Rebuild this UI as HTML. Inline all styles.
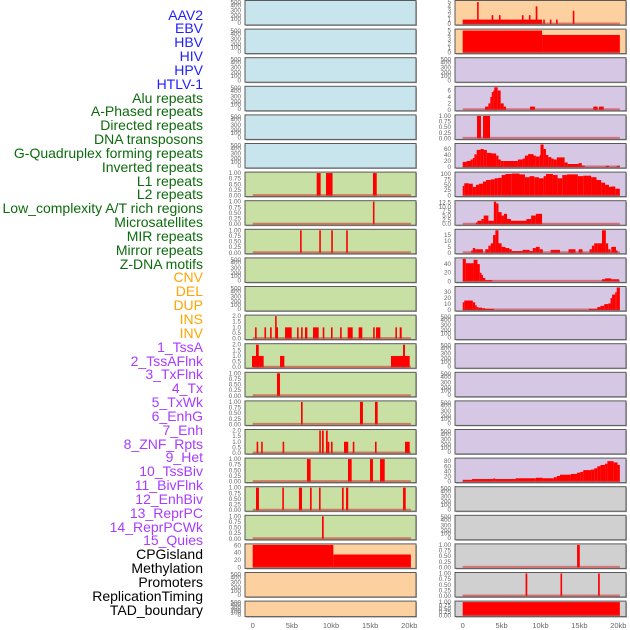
<!DOCTYPE html>
<html><head><meta charset="utf-8">
<style>
body{margin:0;background:#fff;}
#wrap{position:relative;width:630px;height:630px;overflow:hidden;font-family:"Liberation Sans",sans-serif;}
.lbl{position:absolute;right:427px;font-size:14px;line-height:14px;white-space:nowrap;}
svg{position:absolute;left:0;top:0;}
</style></head>
<body>
<div id="wrap">
<svg id="chart" width="630" height="630"></svg>
</div>
<script>
// ---- labels ----
const trackLabels = ["AAV2","EBV","HBV","HIV","HPV","HTLV-1","Alu repeats","A-Phased repeats","Directed repeats","DNA transposons","G-Quadruplex forming repeats","Inverted repeats","L1 repeats","L2 repeats","Low_complexity A/T rich regions","Microsatellites","MIR repeats","Mirror repeats","Z-DNA motifs","CNV","DEL","DUP","INS","INV","1_TssA","2_TssAFlnk","3_TxFlnk","4_Tx","5_TxWk","6_EnhG","7_Enh","8_ZNF_Rpts","9_Het","10_TssBiv","11_BivFlnk","12_EnhBiv","13_ReprPC","14_ReprPCWk","15_Quies","CPGisland","Methylation","Promoters","ReplicationTiming","TAD_boundary"];
const labelGroups = ["v","v","v","v","v","v","r","r","r","r","r","r","r","r","r","r","r","r","r","s","s","s","s","s","c","c","c","c","c","c","c","c","c","c","c","c","c","c","c","o","o","o","o","o"];
// ---- tick label sets ----
const ticksEmpty = [0,100,200,300,400,500];
const ticksBin = ["0.00","0.25","0.50","0.75","1.00"];
const ticks2 = ["0.0","0.5","1.0","1.5","2.0"];
const ticks60 = [0,20,40,60];
const ticks5 = [0,1,2,3,4,5];
const ticks6 = [0,2,4,6];
const ticks100 = [0,25,50,75,100];
const ticks12 = ["0.0","2.5","5.0","7.5","10.0","12.5"];
const ticks15 = [0,5,10,15];
const ticks40 = [0,20,40];
const ticks30 = [0,10,20,30];
const ticks80 = [0,20,40,60,80];
const xTickVals = [0,5,10,15,20];
const xTickText = ["0","5kb","10kb","15kb","20kb"];
// ---- series: [startKb, endKb, value] ----
const aluRep = [[8.17,8.68,1],[9.36,10.2,1],[15.36,15.84,1]];
const aphRep = [[15.35,15.5,1]];
const dirRep = [[6.05,6.25,1],[8.5,8.7,1],[10.03,10.23,1],[11.94,12.14,1]];
const invRep = [[0.3,0.48,1],[1.5,1.66,1],[2.22,2.4,1],[2.86,3.03,2],[3.03,3.16,1],[4.13,4.98,1],[5.66,5.84,1],[6.18,6.36,1],[6.68,6.98,1],[7.7,8.43,1],[8.94,9.15,1],[10.0,10.18,1],[11.16,11.32,1],[12.13,12.77,1],[13.53,14.0,1],[15.38,15.55,1],[15.75,16.3,1],[18.22,18.4,1],[18.77,19.03,1]];
const l1Rep = [[-0.09,1.4,1],[0.42,0.77,2],[3.49,4.04,1],[17.66,20.05,1],[19.2,19.45,2]];
const l2Rep = [[3.1,3.49,1]];
const lowRep = [[6.17,6.38,1],[13.7,14.08,1],[15.62,15.96,1]];
const micRep = [[0.5,0.65,1],[1.08,1.25,1],[3.82,4.0,1],[8.5,8.64,2],[8.85,9.07,2],[9.36,9.58,2],[9.58,9.68,1],[10.0,10.18,1],[11.66,12.2,1],[12.78,12.95,1],[15.62,15.8,1],[19.45,20.05,1]];
const mirRep = [[6.93,7.4,1],[12.17,12.64,1],[14.98,15.36,1],[16.26,16.86,1]];
const mirrorRep = [[0.42,0.8,1],[3.78,3.96,1],[5.91,6.3,1],[7.32,7.53,1],[8.47,8.64,1],[11.4,11.62,1],[11.92,12.2,1],[19.2,19.54,1]];
const zdnaRep = [[8.85,9.07,1]];
const cnvVals = [[0,10.3,65],[10.3,20.2,35]];
const insVals = [[0,10.2,1],[1.85,2.0,5],[3.72,3.88,2],[4.66,4.82,2],[7.61,7.77,2],[8.51,8.67,2],[9.38,9.6,4],[10.35,10.5,1],[11.2,11.36,1],[12.0,12.17,1],[14.15,14.3,3]];
const invVals = [[0,10.2,5],[10.2,20.2,4]];
const tssFlnk = [[2.87,3.3,1],[3.3,3.55,2],[3.55,3.73,4],[3.73,3.93,5.5],[3.93,4.06,6],[4.06,4.5,7],[4.5,4.88,6],[4.88,5.27,2],[5.27,5.57,1],[8.65,9.29,1],[16.79,17.35,1],[17.52,18.12,1]];
const txFlnk = [[1.84,2.35,1],[2.61,3.51,1]];
const txVals = [[0,0.5,17],[0.5,1,20],[1,1.3,25],[1.3,1.5,30],[1.5,1.8,42],[1.8,2.3,57],[2.3,2.7,60],[2.7,3.1,57],[3.1,3.7,47],[3.7,4.3,45],[4.3,4.6,38],[4.6,4.9,25],[4.9,5.2,20],[5.2,7.1,20],[7.1,7.7,25],[7.7,8.0,28],[8.0,8.4,38],[8.4,9.1,43],[9.1,9.4,38],[9.4,9.9,35],[9.9,10.0,40],[10.0,10.4,75],[10.4,10.7,60],[10.7,11.0,40],[11.0,11.4,33],[11.4,11.7,28],[11.7,12.1,25],[12.1,13.1,32],[13.1,13.5,15],[13.5,14.9,10],[14.9,15.3,13],[15.3,15.7,5],[18.4,18.8,4],[19.8,20.2,4]];
const txWkVals = [[0,0.2,45],[0.2,0.8,57],[0.8,1.3,55],[1.3,1.7,40],[1.7,2.1,50],[2.1,2.6,55],[2.6,3.0,65],[3.0,3.6,72],[3.6,4.1,75],[4.1,4.5,80],[4.5,5.0,82],[5.0,5.5,95],[5.5,6.3,100],[6.3,7.3,102],[7.3,8.0,98],[8.0,8.6,85],[8.6,9.2,90],[9.2,9.8,85],[9.8,10.4,80],[10.4,10.7,90],[10.7,11.6,100],[11.6,12.2,95],[12.2,12.8,80],[12.8,13.4,95],[13.4,14.8,98],[14.8,15.5,90],[15.5,16.5,92],[16.5,17.2,85],[17.2,17.8,72],[17.8,18.3,60],[18.3,18.8,50],[18.8,19.0,40],[19.0,19.6,42],[19.6,20.2,32]];
const enhGVals = [[1.7,1.9,1],[1.9,2.4,2],[2.4,2.7,3],[2.7,3.3,5],[3.3,4.0,2],[4.0,4.3,13],[4.3,4.6,12],[4.6,5.0,7],[5.0,5.3,5],[5.3,5.7,6],[5.7,6.2,3],[6.2,8.2,2],[8.2,8.8,3],[8.8,9.4,5],[9.4,10.2,6]];
const enhVals = [[1.1,1.3,2],[1.3,1.6,4],[1.6,2.6,3],[2.9,3.3,3],[3.3,3.6,6],[3.6,3.9,8],[3.9,4.2,15],[4.2,4.6,19],[4.6,5.0,8],[5.0,5.5,5],[5.5,6.0,4],[6.0,6.3,3],[6.3,7.7,1.5],[7.7,8.6,2.5],[8.6,9.0,1.5],[9.0,9.4,4],[9.4,9.9,5],[9.9,10.3,3],[11.3,12.5,2.5],[13.6,14.5,3],[14.9,15.4,3],[16.3,16.6,3],[16.6,16.9,6],[16.9,17.3,8],[17.3,17.9,8],[17.9,18.4,19],[18.4,18.7,8],[18.7,19.0,3],[19.1,19.7,5],[19.7,19.9,2]];
const znfVals = [[0,0.4,55],[0.4,1.4,42],[1.4,1.9,50],[1.9,2.2,40],[2.2,2.4,20],[2.4,2.6,15],[2.6,2.9,8],[2.9,3.8,3],[17.9,18.3,5],[18.3,19.1,7],[19.1,20.1,5]];
const hetVals = [[0,0.2,13],[0.2,1.3,16],[1.3,1.6,13],[1.6,1.8,8],[1.8,2.0,5],[2.0,2.5,4],[2.5,2.9,3],[2.9,4.0,2],[16.2,17.3,2],[17.3,17.7,5],[17.7,18.2,7],[18.2,18.7,10],[18.7,19.0,11],[19.0,19.2,20],[19.2,19.6,26],[19.6,19.8,30],[19.8,20.2,38]];
const quiesVals = [[0,1.2,7],[1.2,3.9,10],[3.9,4.2,12],[4.2,6.8,10],[6.8,9.4,13],[9.4,10.3,15],[10.3,11.7,13],[11.7,12.1,17],[12.1,12.5,22],[12.5,13.9,27],[13.9,14.7,30],[14.7,15.1,35],[15.1,15.5,38],[15.5,16.5,45],[16.5,16.9,47],[16.9,17.3,52],[17.3,17.7,60],[17.7,18.3,65],[18.3,18.6,70],[18.6,19.4,80],[19.4,19.9,75],[19.9,20.2,65]];
const methVals = [[14.7,15.05,1]];
const promVals = [[8.08,8.3,1],[12.57,12.78,1],[17.4,17.62,1]];
const tadVals = [[0,20.2,1]];

const BLUE="#c8e4ec",GREEN="#c8e0a4",ORANGE="#fdd0a0",PURPLE="#d6c8e4",GRAY="#d0d0d0";
// panels: [column, row, bg, ticks, ymax, series, name]
const panels = [
 [0,0,BLUE,ticksEmpty,0,null],[0,1,BLUE,ticksEmpty,0,null],[0,2,BLUE,ticksEmpty,0,null],[0,3,BLUE,ticksEmpty,0,null],[0,4,BLUE,ticksEmpty,0,null],[0,5,BLUE,ticksEmpty,0,null],
 [0,6,GREEN,ticksBin,1,aluRep],[0,7,GREEN,ticksBin,1,aphRep],[0,8,GREEN,ticksBin,1,dirRep],[0,9,GREEN,ticksEmpty,0,null],[0,10,GREEN,ticksEmpty,0,null],
 [0,11,GREEN,ticks2,2,invRep],[0,12,GREEN,ticks2,2,l1Rep],[0,13,GREEN,ticksBin,1,l2Rep],[0,14,GREEN,ticksBin,1,lowRep],[0,15,GREEN,ticks2,2,micRep],
 [0,16,GREEN,ticksBin,1,mirRep],[0,17,GREEN,ticksBin,1,mirrorRep],[0,18,GREEN,ticksBin,1,zdnaRep],
 [0,19,ORANGE,ticks60,61,cnvVals],[0,20,ORANGE,ticksEmpty,0,null],[0,21,ORANGE,ticksEmpty,0,null],
 [1,0,ORANGE,ticks5,5.1,insVals],[1,1,ORANGE,ticks5,5.1,invVals],[1,2,PURPLE,ticksEmpty,0,null],[1,3,PURPLE,ticks6,7,tssFlnk],[1,4,PURPLE,ticksBin,1,txFlnk],
 [1,5,PURPLE,ticks60,75,txVals],[1,6,PURPLE,ticks100,104,txWkVals],[1,7,PURPLE,ticks12,13,enhGVals],[1,8,PURPLE,ticks15,19,enhVals],[1,9,PURPLE,ticks40,52,znfVals],
 [1,10,PURPLE,ticks30,38,hetVals],[1,11,PURPLE,ticksEmpty,0,null],[1,12,PURPLE,ticksEmpty,0,null],[1,13,PURPLE,ticksEmpty,0,null],[1,14,PURPLE,ticksEmpty,0,null],[1,15,PURPLE,ticksEmpty,0,null],
 [1,16,PURPLE,ticks80,88,quiesVals],[1,17,GRAY,ticksEmpty,0,null],[1,18,GRAY,ticksEmpty,0,null],[1,19,GRAY,ticksBin,1,methVals],[1,20,GRAY,ticksBin,1,promVals],[1,21,GRAY,ticksBin,1,tadVals]
];
const NS="http://www.w3.org/2000/svg";
const svg=document.getElementById('chart');
function mk(tag,attrs,parent){const e=document.createElementNS(NS,tag);for(const k in attrs)e.setAttribute(k,attrs[k]);(parent||svg).appendChild(e);return e;}
const colL=[245,455], colW=171, x0=[252.7,462.7], pxPerKb=[7.83,7.78];
function xs(c,kb){return x0[c]+kb*pxPerKb[c];}
function rowTop(r){return 0.5+r*28.6;}
function rowH(r){return r===21?15.5:24.5;}
const emptyFrac=[0.04,0.23,0.38,0.6,0.83,0.96];

panels.forEach((p,i)=>{
  const [c,r,bg,ticks,ymax,series]=p;
  const top=rowTop(r),h=rowH(r),left=colL[c];
  const g=mk('g',{});
  
  
  mk('rect',{x:left+1,y:top+1,width:colW,height:h,fill:'#aaa'},g);
  mk('rect',{x:left,y:top,width:colW,height:h,fill:bg,stroke:'#5a5a5a','stroke-width':1},g);
  const bot=top+h-1, span=h-2;
  const ys=v=>bot-Math.min(v,ymax)/ymax*span;
  // ticks
  ticks.forEach((t,k)=>{
    let y;
    if(!series) y=bot-emptyFrac[k]*span; else y=ys(parseFloat(t));
    const tx=mk('text',{x:left-4,y:y+2,'font-size':6.3,fill:'#666','text-anchor':'end','font-family':'Liberation Sans, sans-serif'},g);
    tx.textContent=t;
    
    
  });
  if(series){
    series.forEach(s=>{
      let xa=xs(c,s[0]),xb=xs(c,s[1]);
      if(xb-xa<1.6)xb=xa+1.6;
      const b=mk('rect',{x:xa,y:ys(s[2]),width:xb-xa,height:bot-ys(s[2]),fill:'#ff0000'},g);
      
      
    });
    const bl=mk('line',{x1:xs(c,0),x2:xs(c,20.2),y1:bot-0.5,y2:bot-0.5,stroke:'rgba(210,40,40,0.55)','stroke-width':2},g);
    
    
  }
});
// x axes
[0,1].forEach(c=>{
  xTickVals.forEach((v,k)=>{
    const t=mk('text',{x:xs(c,v),y:628,'font-size':7.5,fill:'#666','text-anchor':'middle','font-family':'Liberation Sans, sans-serif'});
    t.textContent=xTickText[k];
    
    
  });
});
// labels
const colors={v:'#1f1fff',r:'#0d6b0d',s:'#ffa500',c:'#a83cff',o:'#000'};
const wrap=document.getElementById('wrap');
trackLabels.forEach((t,i)=>{
  const d=document.createElement('div');
  d.className='lbl';
  d.style.top=(15+i*13.84-7.5)+'px';
  d.style.color=colors[labelGroups[i]];
  d.textContent=t;
  
  
  wrap.appendChild(d);
});
</script>
</body></html>
